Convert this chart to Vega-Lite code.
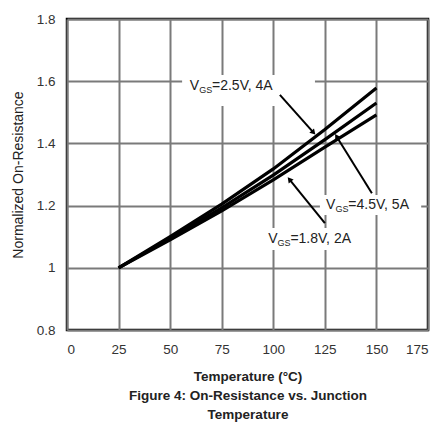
{
  "$schema": "https://vega.github.io/schema/vega-lite/v6.json",
  "width": 361,
  "height": 311,
  "autosize": {"type": "none"},
  "padding": {"left": 67, "top": 19, "right": 14, "bottom": 93},
  "background": "white",
  "config": {
    "view": {"stroke": "black", "strokeWidth": 2.5},
    "font": "Liberation Sans",
    "axis": {
      "grid": true,
      "gridColor": "#7a7a7a",
      "gridWidth": 2,
      "domain": false,
      "ticks": false,
      "tickSize": 0,
      "labelColor": "#333333",
      "labelFontSize": 13.5,
      "labelFont": "Liberation Sans",
      "titleFont": "Liberation Sans",
      "titleColor": "#222222",
      "titleFontSize": 13.5,
      "titleFontWeight": "bold"
    }
  },
  "datasets": {
    "curves": [
      {"series": "2.5V", "t": 25, "r": 1.0},
      {"series": "2.5V", "t": 50, "r": 1.1},
      {"series": "2.5V", "t": 75, "r": 1.205},
      {"series": "2.5V", "t": 100, "r": 1.318},
      {"series": "2.5V", "t": 125, "r": 1.445},
      {"series": "2.5V", "t": 150, "r": 1.578},
      {"series": "4.5V", "t": 25, "r": 1.0},
      {"series": "4.5V", "t": 50, "r": 1.095},
      {"series": "4.5V", "t": 75, "r": 1.193},
      {"series": "4.5V", "t": 100, "r": 1.298},
      {"series": "4.5V", "t": 125, "r": 1.412},
      {"series": "4.5V", "t": 150, "r": 1.53},
      {"series": "1.8V", "t": 25, "r": 1.0},
      {"series": "1.8V", "t": 50, "r": 1.09},
      {"series": "1.8V", "t": 75, "r": 1.183},
      {"series": "1.8V", "t": 100, "r": 1.283},
      {"series": "1.8V", "t": 125, "r": 1.388},
      {"series": "1.8V", "t": 150, "r": 1.492}
    ],
    "boxes": [
      {"id": "2.5V", "t1": 55.8, "t2": 120.2, "r1": 1.52, "r2": 1.62},
      {"id": "4.5V", "t1": 122.6, "t2": 171.7, "r1": 1.17, "r2": 1.234},
      {"id": "1.8V", "t1": 94.5, "t2": 143, "r1": 1.057, "r2": 1.128}
    ],
    "arrows": [
      {"id": "2.5V", "t1": 103.2, "r1": 1.556, "t2": 119.2, "r2": 1.437},
      {"id": "4.5V", "t1": 147.8, "r1": 1.24, "t2": 130.9, "r2": 1.42},
      {"id": "1.8V", "t1": 125, "r1": 1.144, "t2": 108.1, "r2": 1.282}
    ],
    "labels": [
      {"id": "2.5V", "part": "V", "t": 59.5, "r": 1.585, "txt": "V"},
      {"id": "2.5V", "part": "sub", "t": 64.1, "r": 1.585, "txt": "GS"},
      {"id": "2.5V", "part": "rest", "t": 70.3, "r": 1.585, "txt": "=2.5V, 4A"},
      {"id": "4.5V", "part": "V", "t": 125.6, "r": 1.203, "txt": "V"},
      {"id": "4.5V", "part": "sub", "t": 130.2, "r": 1.203, "txt": "GS"},
      {"id": "4.5V", "part": "rest", "t": 136.4, "r": 1.203, "txt": "=4.5V, 5A"},
      {"id": "1.8V", "part": "V", "t": 97.5, "r": 1.093, "txt": "V"},
      {"id": "1.8V", "part": "sub", "t": 102.1, "r": 1.093, "txt": "GS"},
      {"id": "1.8V", "part": "rest", "t": 108.3, "r": 1.093, "txt": "=1.8V, 2A"}
    ]
  },
  "layer": [
    {
      "data": {"name": "curves"},
      "mark": {"type": "line", "color": "black", "strokeWidth": 3.2},
      "encoding": {
        "x": {
          "field": "t", "type": "quantitative",
          "scale": {"domain": [0, 175], "nice": false},
          "axis": {
            "values": [0, 25, 50, 75, 100, 125, 150, 175],
            "labelPadding": 12,
            "titlePadding": 14,
            "titleLineHeight": 19,
            "title": ["Temperature (°C)", "Figure 4: On-Resistance vs. Junction", "Temperature"]
          }
        },
        "y": {
          "field": "r", "type": "quantitative",
          "scale": {"domain": [0.8, 1.8], "nice": false, "zero": false},
          "axis": {
            "values": [0.8, 1, 1.2, 1.4, 1.6, 1.8],
            "format": "~g",
            "labelPadding": 12,
            "titlePadding": 11,
            "titleFontSize": 14,
            "titleFontWeight": "normal",
            "title": "Normalized On-Resistance"
          }
        },
        "detail": {"field": "series"}
      }
    },
    {
      "data": {"name": "boxes"},
      "mark": {"type": "rect", "color": "white"},
      "encoding": {
        "x": {"field": "t1", "type": "quantitative"},
        "x2": {"field": "t2"},
        "y": {"field": "r1", "type": "quantitative"},
        "y2": {"field": "r2"}
      }
    },
    {
      "data": {"name": "arrows"},
      "mark": {"type": "rule", "color": "black", "strokeWidth": 2},
      "encoding": {
        "x": {"field": "t1", "type": "quantitative"},
        "x2": {"field": "t2"},
        "y": {"field": "r1", "type": "quantitative"},
        "y2": {"field": "r2"}
      }
    },
    {
      "data": {"name": "arrows"},
      "transform": [{"filter": "datum.id == '2.5V'"}],
      "mark": {"type": "point", "shape": "triangle", "filled": true, "color": "black", "size": 40, "angle": 138, "opacity": 1},
      "encoding": {
        "x": {"field": "t2", "type": "quantitative"},
        "y": {"field": "r2", "type": "quantitative"}
      }
    },
    {
      "data": {"name": "arrows"},
      "transform": [{"filter": "datum.id == '4.5V'"}],
      "mark": {"type": "point", "shape": "triangle", "filled": true, "color": "black", "size": 40, "angle": 328, "opacity": 1},
      "encoding": {
        "x": {"field": "t2", "type": "quantitative"},
        "y": {"field": "r2", "type": "quantitative"}
      }
    },
    {
      "data": {"name": "arrows"},
      "transform": [{"filter": "datum.id == '1.8V'"}],
      "mark": {"type": "point", "shape": "triangle", "filled": true, "color": "black", "size": 40, "angle": 321, "opacity": 1},
      "encoding": {
        "x": {"field": "t2", "type": "quantitative"},
        "y": {"field": "r2", "type": "quantitative"}
      }
    },
    {
      "data": {"name": "labels"},
      "transform": [{"filter": "datum.part != 'sub'"}],
      "mark": {"type": "text", "align": "left", "baseline": "middle", "fontSize": 14, "color": "#222222"},
      "encoding": {
        "x": {"field": "t", "type": "quantitative"},
        "y": {"field": "r", "type": "quantitative"},
        "text": {"field": "txt"}
      }
    },
    {
      "data": {"name": "labels"},
      "transform": [{"filter": "datum.part == 'sub'"}],
      "mark": {"type": "text", "align": "left", "baseline": "middle", "fontSize": 9, "dy": 4, "color": "#222222"},
      "encoding": {
        "x": {"field": "t", "type": "quantitative"},
        "y": {"field": "r", "type": "quantitative"},
        "text": {"field": "txt"}
      }
    }
  ]
}
